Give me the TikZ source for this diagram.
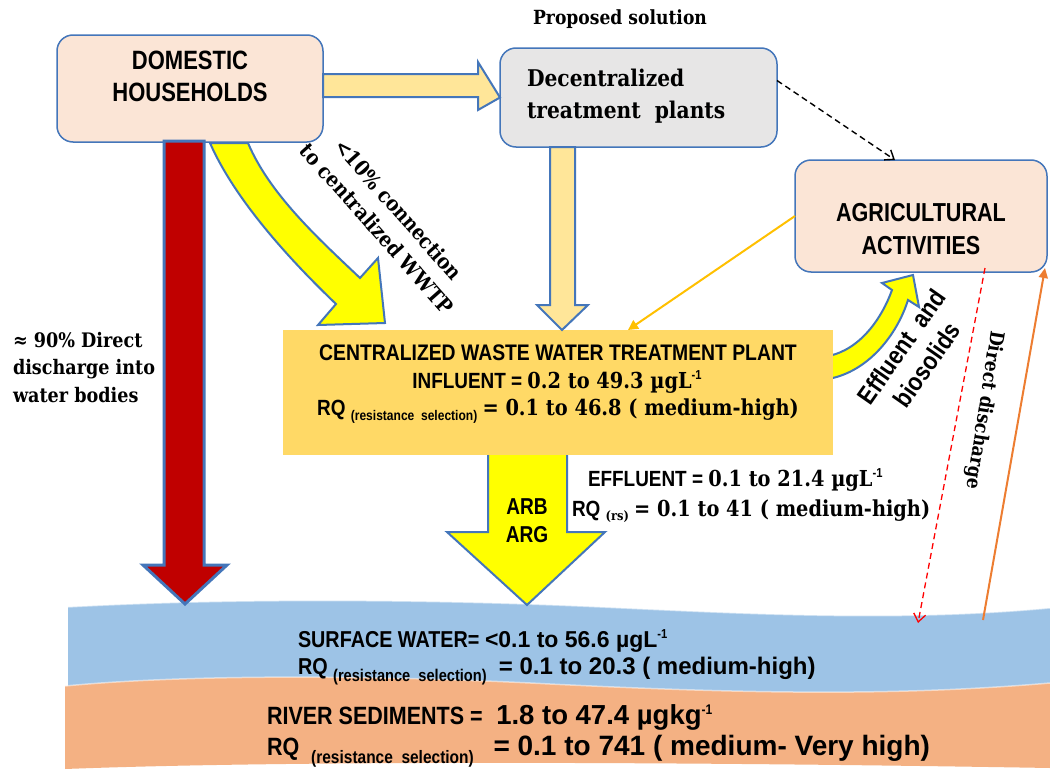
\documentclass[tikz,border=0pt]{standalone}
\usepackage{fontspec}
\setmainfont{Liberation Sans}
\newfontfamily\cond[FakeStretch=0.86]{Liberation Sans Bold}
\newfontfamily\condh[FakeStretch=0.83]{Liberation Sans Bold}
\newfontfamily\srf[FakeStretch=0.88]{DejaVu Serif Bold}
\newfontfamily\sns{Liberation Sans Bold}
\usetikzlibrary{arrows.meta}
\newcommand\fsz[1]{\fontsize{#1}{#1}\selectfont}
\newcommand\mysup[2]{\raisebox{#1pt}{\fontsize{#2}{#2}\selectfont -1}}
\newcommand\rsel[2]{\raisebox{-#2pt}{\fontsize{#1}{#1}\selectfont (resistance\ \ selection)}}
\definecolor{bblue}{RGB}{68,118,186}
\definecolor{peach}{RGB}{251,229,214}
\definecolor{greyb}{RGB}{231,230,230}
\definecolor{lyellow}{RGB}{255,230,153}
\definecolor{yel}{RGB}{255,255,0}
\definecolor{darkred}{RGB}{192,0,0}
\definecolor{cenyel}{RGB}{255,217,102}
\definecolor{goldl}{RGB}{255,192,0}
\definecolor{orangel}{RGB}{237,125,49}
\definecolor{water}{RGB}{157,195,230}
\definecolor{sediment}{RGB}{244,177,131}
\begin{document}
\begin{tikzpicture}[x=1pt,y=-1pt,
  every node/.style={inner sep=0pt,outer sep=0pt},
  peachbox/.style={draw=bblue,line width=1.5pt,fill=peach,rounded corners=16pt},
  greybox/.style={draw=bblue,line width=1.5pt,fill=greyb,rounded corners=16pt},
  blockarrow/.style={draw=bblue,line width=2pt,line join=miter}]
\useasboundingbox (0,0) rectangle (1050,771);
\fill[white] (0,0) rectangle (1050,771);

% water and sediment bands
\fill[water] (68,607) .. controls (250,597) and (450,600) .. (600,607)
  .. controls (750,614) and (900,622) .. (1050,608) -- (1050,700) -- (68,700) -- cycle;
\fill[sediment] (65,686) .. controls (200,673) and (400,676) .. (550,684)
  .. controls (750,694) and (900,696) .. (1050,683) -- (1050,768)
  .. controls (700,762) and (300,760) .. (65,769) -- cycle;
\draw[white,opacity=0.5,line width=1.5pt] (68,607) .. controls (250,597) and (450,600) .. (600,607)
  .. controls (750,614) and (900,622) .. (1050,608);
\draw[white,opacity=0.5,line width=1.5pt] (65,686) .. controls (200,673) and (400,676) .. (550,684)
  .. controls (750,694) and (900,696) .. (1050,683);

% boxes
\node[peachbox,minimum width=266pt,minimum height=107pt] (dom) at (190,88.5) {};
\node[greybox,minimum width=277pt,minimum height=99pt] (dec) at (638.5,97.5) {};
\node[peachbox,minimum width=252pt,minimum height=112pt] (agr) at (921,216) {};

% block arrows drawn below the central box
\draw[blockarrow,fill=yel] (828,356) .. controls (860,350) and (882,318) .. (892,290)
  -- (882,283) -- (913,275) -- (919,307) -- (908,300)
  .. controls (897,335) and (868,372) .. (828,379) -- cycle;
\draw[blockarrow,fill=yel] (488,452) -- (488,532) -- (447,532) -- (527,605) -- (605,532) -- (567,532) -- (567,452) -- cycle;

\node[fill=cenyel,minimum width=550pt,minimum height=125pt] (cen) at (558,392.5) {};

% other block arrows
\draw[blockarrow,line width=3pt,fill=darkred] (164,141) -- (164,565) -- (143,565) -- (185,604) -- (227,565) -- (204,565) -- (204,141) -- cycle;
\draw[blockarrow,fill=yel] (210,143) .. controls (235,200) and (290,260) .. (336,304)
  -- (318,325) -- (385,323) -- (378,258) -- (360,278)
  .. controls (320,240) and (270,195) .. (248,143) -- cycle;
\draw[blockarrow,fill=lyellow] (dom.east |- 0,74) -- (478,74) -- (478,62) -- (dec.west) -- (478,110) -- (478,97) -- (dom.east |- 0,97) -- cycle;
\draw[blockarrow,fill=lyellow] (550,147) -- (550,305) -- (537,305) -- (cen.north -| 562,0) -- (588,305) -- (575,305) -- (575,147) -- cycle;

% line connectors
\coordinate (redend) at (918,623);
\coordinate (orstart) at (983,620);
\draw[line width=1.4pt,dash pattern=on 6pt off 4pt,-{Straight Barb[length=8pt,width=12pt]}] (dec.7) -- ([xshift=-26pt]agr.north);
\draw[goldl,line width=2pt,-{Triangle[length=10pt,width=10pt]}] (agr.west) -- ([xshift=70pt]cen.north);
\draw[red,line width=1.3pt,dash pattern=on 6pt off 4pt,-{Straight Barb[length=8pt,width=12pt]}] ([xshift=64pt,yshift=4pt]agr.south) -- (redend);
\draw[orangel,line width=2pt,-{Triangle[length=10pt,width=9pt]}] (orstart) -- ([xshift=-2pt,yshift=4pt]agr.south east);

% texts
\node[font=\condh\fontsize{26.5}{32}\selectfont,align=center] (domt) at (dom.center |- 0,76) {DOMESTIC\\HOUSEHOLDS};
\node[font=\srf\fontsize{23}{32}\selectfont,align=left,anchor=west] (dect) at (527,96) {Decentralized\\treatment\ \ plants};
\node[font=\condh\fontsize{26}{33}\selectfont,align=center] (agrt) at (agr.center |- 0,229) {AGRICULTURAL\\ACTIVITIES};
\node[font=\srf\fsz{19.5}] (prop) at (620,19) {Proposed solution};

\node[font=\srf\fontsize{21}{29}\selectfont,align=center,rotate=-48.5] (conn) at (388,219) {<10\% connection\\to centralized WWTP};
\node[font=\srf\fsz{20},anchor=base west] (d1) at (13,347) {≈ 90\% Direct};
\node[font=\srf\fsz{20},anchor=base west] (d2) at (13,374) {discharge into};
\node[font=\srf\fsz{20},anchor=base west] (d3) at (13,402) {water bodies};

\node[font=\cond\fsz{22.5},anchor=base] (c1) at (558,360) {CENTRALIZED WASTE WATER TREATMENT PLANT};
\node[font=\cond\fsz{22},anchor=base] (c2) at (557,388) {INFLUENT = {\srf 0.2 to 49.3 µgL}\mysup{9}{13}};
\node[font=\cond\fsz{22},anchor=base] (c3) at (558,415) {RQ \rsel{14}{5} {\srf = 0.1 to 46.8 ( medium-high)}};

\node[font=\condh\fontsize{23}{28}\selectfont,align=center] (arb) at (527,521) {ARB\\ARG};
\node[font=\cond\fsz{22},anchor=base west] (e1) at (588,486) {EFFLUENT = {\srf 0.1 to 21.4 µgL}\mysup{9}{13}};
\node[font=\cond\fsz{22},anchor=base west] (e2) at (572,516) {RQ {\srf\fsz{13}\raisebox{-4pt}{(rs)}} {\srf = 0.1 to 41 ( medium-high)}};

\node[font=\cond\fontsize{25.5}{31}\selectfont,align=center,rotate=55] (eff) at (914,356) {Effluent\ \ and\\biosolids};
\node[font=\srf\fsz{19.5},rotate=-99] (ddis) at (984,410) {Direct discharge};

\node[font=\cond\fsz{23},anchor=base west] (s1) at (298,647) {SURFACE WATER= {\sns <0.1 to 56.6 µgL}\mysup{9}{13}};
\node[font=\cond\fsz{23},anchor=base west] (s2) at (298,674) {RQ \rsel{17}{7}\ {\sns\fsz{24} = 0.1 to 20.3 ( medium-high)}};
\node[font=\cond\fsz{25},anchor=base west] (r1) at (267,724) {RIVER SEDIMENTS = {\sns\fsz{27.5} 1.8 to 47.4 µgkg}\mysup{10}{14}};
\node[font=\cond\fsz{25},anchor=base west] (r2) at (267,755) {RQ \ \rsel{18}{8}\ \ {\sns\fsz{28} = 0.1 to 741 ( medium- Very high)}};
\end{tikzpicture}
\end{document}
